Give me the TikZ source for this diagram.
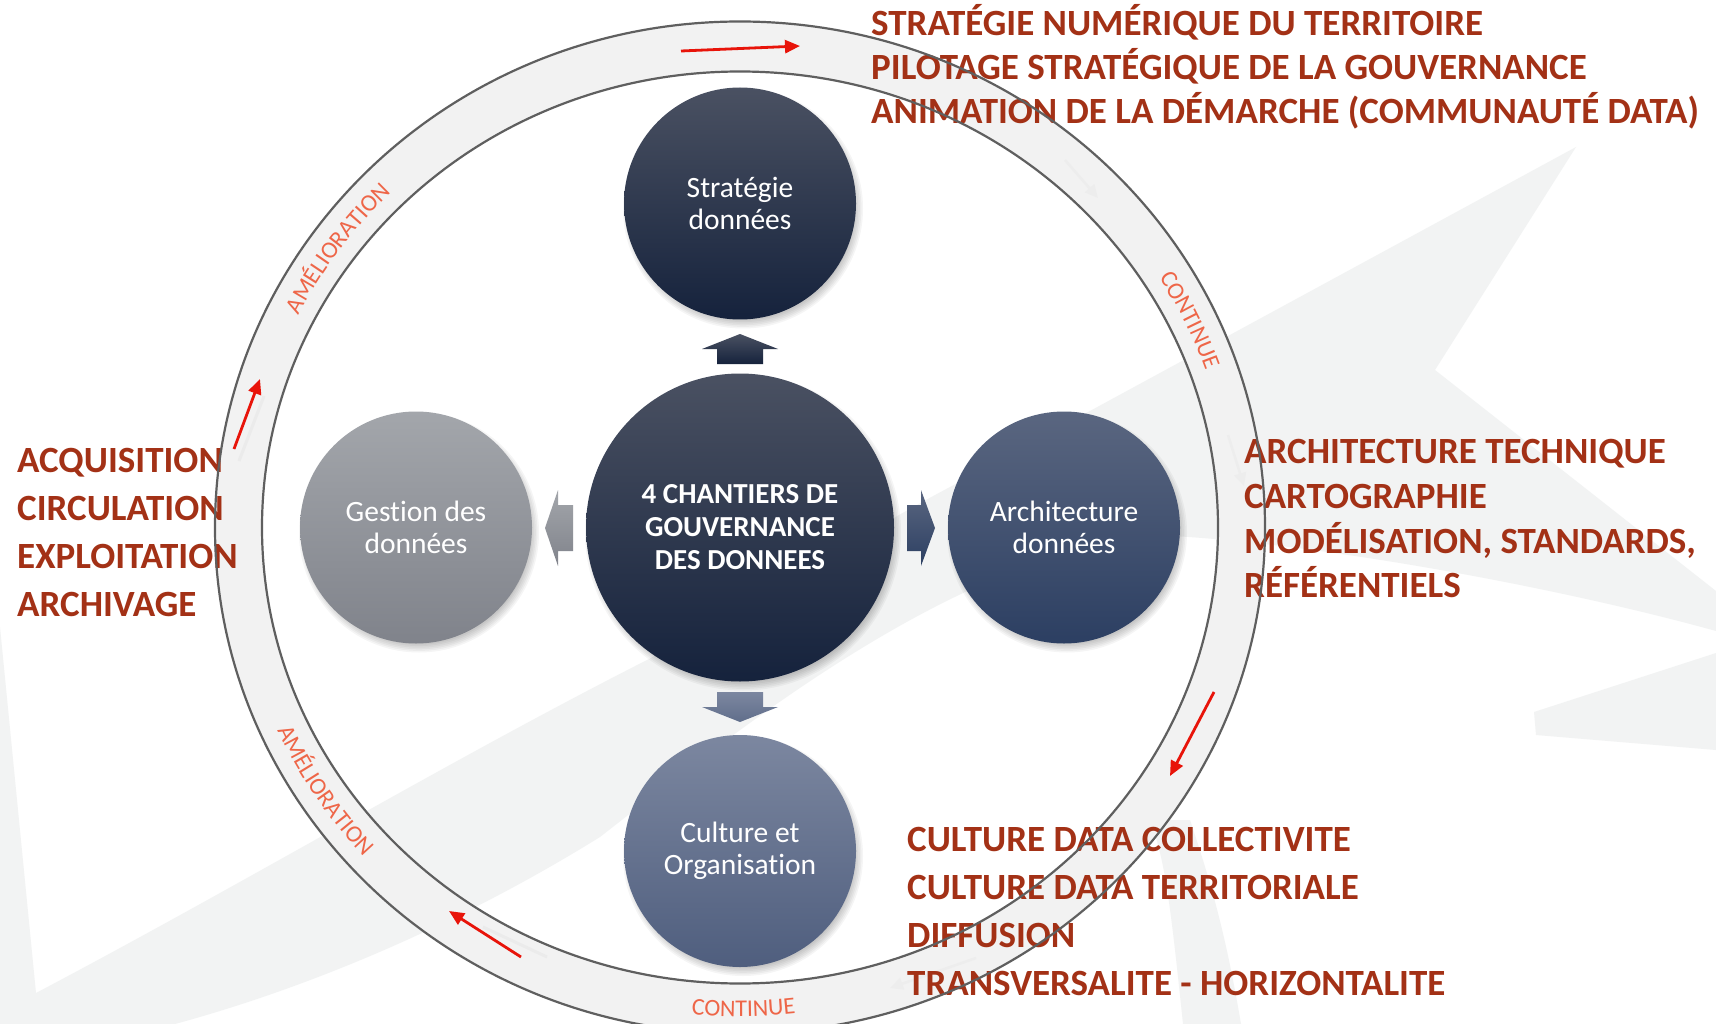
\documentclass[tikz,border=0pt]{standalone}
\usepackage{fontspec}
\setmainfont{Carlito}[Ligatures=NoCommon]
\usetikzlibrary{arrows.meta,decorations.text,calc}
\definecolor{redtxt}{RGB}{163,49,22}
\definecolor{ringred}{RGB}{238,102,72}
\definecolor{arrowred}{RGB}{232,20,10}
\definecolor{ringfill}{RGB}{242,242,242}
\definecolor{ringline}{RGB}{95,95,95}
\definecolor{wm}{RGB}{242,243,243}
\definecolor{navyT}{RGB}{74,81,98}
\definecolor{navyB}{RGB}{21,34,60}
\definecolor{grayT}{RGB}{163,166,171}
\definecolor{grayB}{RGB}{128,131,139}
\definecolor{archT}{RGB}{90,102,128}
\definecolor{archB}{RGB}{44,63,98}
\definecolor{cultT}{RGB}{124,135,160}
\definecolor{cultB}{RGB}{79,94,126}
\newcommand{\ringtxt}{\fontsize{24}{24}\selectfont}
\tikzset{
  redlabel/.style={anchor=base west, inner sep=0pt, text=redtxt, font=\fontsize{37}{44}\selectfont\bfseries},
  chantier/.style={circle, minimum size=232pt, inner sep=0pt, text=white, align=center, font=\fontsize{29.5}{32}\selectfont},
  ringarrow/.style={draw=arrowred, line width=2.8pt, -{Triangle[length=15pt,width=13pt]}},
  faintarrow/.style={draw=black!7, line width=2.5pt, -{Triangle[length=13pt,width=12pt]}},
  arrowshadow/.style={draw=black!8, line width=3pt},
  ringlabel/.style={decorate, decoration={text along path, text align=center, text color=ringred}},
  ringstroke/.style={draw=ringline, line width=2.2pt},
  softshadow/.style={fill=black, opacity=0.04},
}
\begin{document}
\begin{tikzpicture}[x=1pt, y=-1pt]
\useasboundingbox (0,0) rectangle (1716,1024);
\clip (0,0) rectangle (1716,1024);
\fill[white] (0,0) rectangle (1716,1024);

% faint background emblem
\fill[wm] (0,1024) -- (0,627) -- (36,993) .. controls (250,880) and (450,760) .. (647,660)
  .. controls (760,600) and (850,540) .. (950,487) -- (1576,147) -- (1435,370) -- (1716,591)
  -- (1716,631) .. controls (1550,585) and (1300,540) .. (1150,535)
  .. controls (950,560) and (750,720) .. (600,837) .. controls (450,930) and (300,990) .. (175,1024) -- cycle;
\fill[wm] (1716,653) -- (1534,712) -- (1536,735) -- (1716,750) -- cycle;
\fill[wm] (1150,820) .. controls (1165,860) and (1170,900) .. (1183,1024) -- (1241,1024)
  .. controls (1225,930) and (1210,880) .. (1190,820) -- cycle;

% ring band
\coordinate (ring) at (740,527.5);
\fill[ringfill, even odd rule] (ring) ellipse[x radius=525, y radius=506] (ring) ellipse[x radius=478, y radius=456];

% faint arrows on the ring
\coordinate (fa1s) at (1065,160); \coordinate (fa1e) at (1098,198);
\coordinate (fa2s) at (1228,435); \coordinate (fa2e) at (1244,486);
\coordinate (fa3s) at (976,958);  \coordinate (fa3e) at (890,988);
\draw[faintarrow] (fa1s) -- (fa1e);
\draw[faintarrow] (fa2s) -- (fa2e);
\draw[faintarrow] (fa3s) -- (fa3e);

% red arrow shadows
\coordinate (sh2s) at (239,461); \coordinate (sh2e) at (264,396);
\coordinate (sh4s) at (547,957); \coordinate (sh4e) at (483,927);
\draw[arrowshadow] (sh2s) -- (sh2e);
\draw[arrowshadow] (sh4s) -- (sh4e);

% red text blocks
\node[redlabel] (t1) at (871,36)  {STRATÉGIE NUMÉRIQUE DU TERRITOIRE};
\node[redlabel] (t2) at (871,80)  {PILOTAGE STRATÉGIQUE DE LA GOUVERNANCE};
\node[redlabel] (t3) at (871,124) {ANIMATION DE LA DÉMARCHE (COMMUNAUTÉ DATA)};

\node[redlabel] (r1) at (1244,463) {ARCHITECTURE TECHNIQUE};
\node[redlabel] (r2) at (1244,508) {CARTOGRAPHIE};
\node[redlabel] (r3) at (1244,553) {MODÉLISATION, STANDARDS,};
\node[redlabel] (r4) at (1244,597) {RÉFÉRENTIELS};

\node[redlabel] (l1) at (17,472) {ACQUISITION};
\node[redlabel] (l2) at (17,520) {CIRCULATION};
\node[redlabel] (l3) at (17,568) {EXPLOITATION};
\node[redlabel] (l4) at (17,616) {ARCHIVAGE};

\node[redlabel] (b1) at (907,851) {CULTURE DATA COLLECTIVITE};
\node[redlabel] (b2) at (907,899) {CULTURE DATA TERRITORIALE};
\node[redlabel] (b3) at (907,947) {DIFFUSION};
\node[redlabel] (b4) at (907,995) {TRANSVERSALITE - HORIZONTALITE};

% ring strokes
\draw[ringstroke] (ring) ellipse[x radius=525, y radius=506];
\draw[ringstroke] (ring) ellipse[x radius=478, y radius=456];

% ring labels
\path[ringlabel, decoration={text={|\ringtxt|AMÉLIORATION}}]
  (ring) ++(195.7:493.5 and 474) arc[start angle=195.7, end angle=235.7, x radius=493.5, y radius=474];
\path[ringlabel, decoration={text={|\ringtxt|CONTINUE}}]
  (ring) ++(314.5:493.5 and 474) arc[start angle=314.5, end angle=354.5, x radius=493.5, y radius=474];
\path[ringlabel, decoration={text={|\ringtxt|AMÉLIORATION}}]
  (ring) ++(166.7:508.5 and 489) arc[start angle=166.7, end angle=126.7, x radius=508.5, y radius=489];
\path[ringlabel, decoration={text={|\ringtxt|CONTINUE}}]
  (ring) ++(109.6:508.5 and 489) arc[start angle=109.6, end angle=69.6, x radius=508.5, y radius=489];

% red ring arrows
\coordinate (ra1s) at (681,51);  \coordinate (ra1e) at (800,46);
\coordinate (ra2s) at (234,449); \coordinate (ra2e) at (260,379);
\coordinate (ra3s) at (1214,692); \coordinate (ra3e) at (1170,776);
\coordinate (ra4s) at (521,957); \coordinate (ra4e) at (449,911);
\draw[ringarrow] (ra1s) -- (ra1e);
\draw[ringarrow] (ra2s) -- (ra2e);
\draw[ringarrow] (ra3s) -- (ra3e);
\draw[ringarrow] (ra4s) -- (ra4e);

% circle positions
\coordinate (pS) at (740,203.5);
\coordinate (pC) at (740,527.5);
\coordinate (pG) at (416,527.5);
\coordinate (pA) at (1064,527.5);
\coordinate (pU) at (740,851);

% soft shadows
\foreach \k in {0,...,5}{
  \fill[softshadow] ($(pS)+(3,5)$) circle[radius={112+1.6*\k}];
  \fill[softshadow] ($(pG)+(3,5)$) circle[radius={112+1.6*\k}];
  \fill[softshadow] ($(pA)+(3,5)$) circle[radius={112+1.6*\k}];
  \fill[softshadow] ($(pU)+(3,5)$) circle[radius={112+1.6*\k}];
  \fill[softshadow] ($(pC)+(3,5)$) circle[radius={150+1.6*\k}];
}

% circles
\node[chantier, top color=navyT, bottom color=navyB] (strat) at (pS) {Stratégie\\données};
\node[chantier, top color=grayT, bottom color=grayB] (gest) at (pG) {Gestion des\\données};
\node[chantier, top color=archT, bottom color=archB] (arch) at (pA) {Architecture\\données};
\node[chantier, top color=cultT, bottom color=cultB] (cult) at (pU) {Culture et\\Organisation};
\node[chantier, minimum size=308pt, top color=navyT, bottom color=navyB, font=\fontsize{29}{33}\selectfont\bfseries] (core) at (pC) {4 CHANTIERS DE\\GOUVERNANCE\\DES DONNEES};

% block arrows from the core to the four circles
\shade[top color=navyT, bottom color=navyB] (740,334) -- (778,349) -- (763,349) -- (763,364) -- (717,364) -- (717,349) -- (702,349) -- cycle;
\shade[top color=cultT, bottom color=cultB!90!white] (740,722) -- (778,707) -- (763,707) -- (763,692) -- (717,692) -- (717,707) -- (702,707) -- cycle;
\shade[top color=grayT, bottom color=grayB] (545,528) -- (558,490) -- (558,505) -- (573,505) -- (573,551) -- (558,551) -- (558,566) -- cycle;
\shade[top color=archT, bottom color=archB] (935,528) -- (921,490) -- (921,505) -- (907,505) -- (907,551) -- (921,551) -- (921,566) -- cycle;
\end{tikzpicture}
\end{document}
